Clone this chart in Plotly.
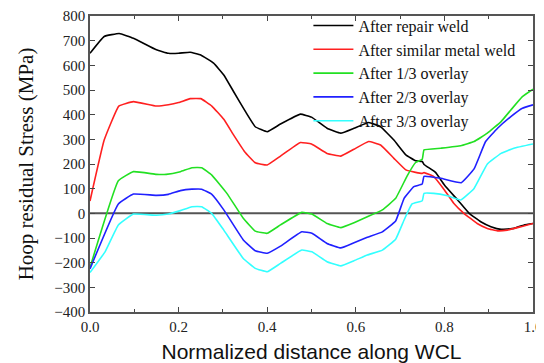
import plotly.graph_objects as go

# Data
x_black = [0.0, 0.032, 0.066, 0.098, 0.150, 0.177, 0.200, 0.226, 0.250, 0.279, 0.302, 0.324, 0.351, 0.373, 0.400, 0.430, 0.475, 0.500, 0.535, 0.566, 0.596, 0.629, 0.656, 0.686, 0.713, 0.735, 0.750, 0.754, 0.780, 0.800, 0.830, 0.856, 0.882, 0.905, 0.928, 0.957, 0.980, 1.0]
y_black = [649, 717, 729, 710, 663, 649, 649, 653, 642, 609, 561, 494, 412, 351, 331, 362, 402, 390, 345, 325, 345, 368, 351, 297, 237, 213, 210, 198, 166, 115, 54, 0, -34, -54, -65, -61, -47, -41]

x_red = [0.0, 0.032, 0.065, 0.098, 0.150, 0.177, 0.200, 0.226, 0.250, 0.275, 0.302, 0.324, 0.349, 0.373, 0.400, 0.430, 0.475, 0.500, 0.535, 0.566, 0.596, 0.629, 0.656, 0.686, 0.713, 0.735, 0.750, 0.754, 0.776, 0.800, 0.821, 0.844, 0.874, 0.897, 0.920, 0.942, 0.973, 1.0]
y_red = [50, 297, 435, 453, 435, 440, 449, 465, 465, 435, 381, 318, 250, 205, 196, 232, 287, 281, 243, 232, 260, 291, 277, 223, 176, 166, 162, 165, 149, 95, 41, 0, -41, -61, -71, -68, -54, -41]

x_green = [0.0, 0.064, 0.098, 0.150, 0.172, 0.204, 0.230, 0.252, 0.275, 0.309, 0.346, 0.373, 0.400, 0.430, 0.478, 0.501, 0.535, 0.566, 0.596, 0.626, 0.660, 0.690, 0.716, 0.735, 0.750, 0.754, 0.792, 0.837, 0.867, 0.897, 0.928, 0.950, 0.976, 1.0]
y_green = [-220, 132, 169, 158, 158, 169, 185, 185, 155, 81, -20, -72, -81, -47, 4, -3, -41, -58, -38, -14, 14, 61, 152, 206, 219, 257, 264, 274, 291, 325, 372, 419, 473, 503]

x_blue = [0.0, 0.064, 0.098, 0.150, 0.177, 0.204, 0.230, 0.252, 0.275, 0.302, 0.346, 0.373, 0.400, 0.430, 0.478, 0.501, 0.535, 0.566, 0.596, 0.626, 0.660, 0.690, 0.709, 0.731, 0.750, 0.754, 0.792, 0.838, 0.867, 0.893, 0.920, 0.950, 0.976, 1.0]
y_blue = [-225, 38, 78, 73, 77, 92, 98, 98, 77, 14, -108, -152, -162, -133, -75, -81, -122, -140, -119, -97, -75, -31, 61, 108, 119, 150, 142, 124, 180, 291, 345, 392, 426, 440]

x_cyan = [0.0, 0.034, 0.064, 0.098, 0.150, 0.177, 0.204, 0.230, 0.252, 0.275, 0.302, 0.346, 0.373, 0.400, 0.430, 0.478, 0.501, 0.535, 0.566, 0.596, 0.626, 0.660, 0.690, 0.709, 0.727, 0.750, 0.754, 0.776, 0.807, 0.837, 0.867, 0.897, 0.928, 0.957, 1.0]
y_cyan = [-240, -156, -47, -3, -8, -3, 11, 27, 27, -1, -68, -183, -223, -237, -203, -149, -156, -196, -213, -192, -169, -149, -105, -27, 38, 51, 81, 81, 71, 54, 101, 200, 243, 264, 281]

series_names = ["After repair weld", "After similar metal weld", "After 1/3 overlay",
                "After 2/3 overlay", "After 3/3 overlay"]
series_colors = ["#000000", "#ff2020", "#22e022", "#2020ff", "#33ffff"]

y_ticks = list(range(-400, 801, 100))
x_ticks = [0.0, 0.2, 0.4, 0.6, 0.8, 1.0]
x_tick_labels = ["0.0", "0.2", "0.4", "0.6", "0.8", "1.0"]

fig = go.Figure()

# zero reference line
fig.add_trace(go.Scatter(x=[0, 1], y=[0, 0], mode="lines",
                         line=dict(color="#555555", width=2), showlegend=False,
                         hoverinfo="skip"))

all_x = [x_black, x_red, x_green, x_blue, x_cyan]
all_y = [y_black, y_red, y_green, y_blue, y_cyan]
for xs, ys, name, col in zip(all_x, all_y, series_names, series_colors):
    fig.add_trace(go.Scatter(x=xs, y=ys, mode="lines", name=name,
                             line=dict(color=col, width=1.6, shape="spline", smoothing=0.3)))

serif = "Liberation Serif"
sans = "Liberation Sans"
# the page body adds an 8px offset, so the figure is sized 536x355
fig.update_layout(
    width=536, height=355,
    margin=dict(l=82, r=11, t=8, b=51, autoexpand=False),
    paper_bgcolor="white", plot_bgcolor="white",
    font=dict(family=serif, color="#111111"),
    legend=dict(x=0.493, y=1.025, xanchor="left", yanchor="top",
                bgcolor="rgba(0,0,0,0)", borderwidth=0,
                font=dict(family=serif, size=16, color="#111111"),
                tracegroupgap=0, itemwidth=40),
    showlegend=True,
)
fig.update_xaxes(range=[0, 1], tickvals=x_ticks, ticktext=x_tick_labels,
                 ticks="inside", ticklen=5, tickwidth=1, tickcolor="#444444",
                 minor=dict(ticks="inside", dtick=0.1, ticklen=3, tickcolor="#444444"),
                 showline=True, linecolor="#555555", linewidth=1.5, mirror="ticks",
                 showgrid=False, zeroline=False, automargin=False,
                 tickfont=dict(family=serif, size=15, color="#222222"),
                 title=dict(text="Normalized distance along WCL",
                            font=dict(family=sans, size=21, color="#111111")))
fig.update_yaxes(range=[-400, 800], tickvals=y_ticks,
                 ticks="inside", ticklen=5, tickwidth=1, tickcolor="#444444",
                 showline=True, linecolor="#555555", linewidth=1.5, mirror="ticks",
                 showgrid=False, zeroline=False, automargin=False,
                 tickfont=dict(family=serif, size=15, color="#222222"),
                 title=dict(text="Hoop residual Stress (MPa)",
                            font=dict(family=serif, size=21, color="#111111")))

fig.write_html("out.html")
